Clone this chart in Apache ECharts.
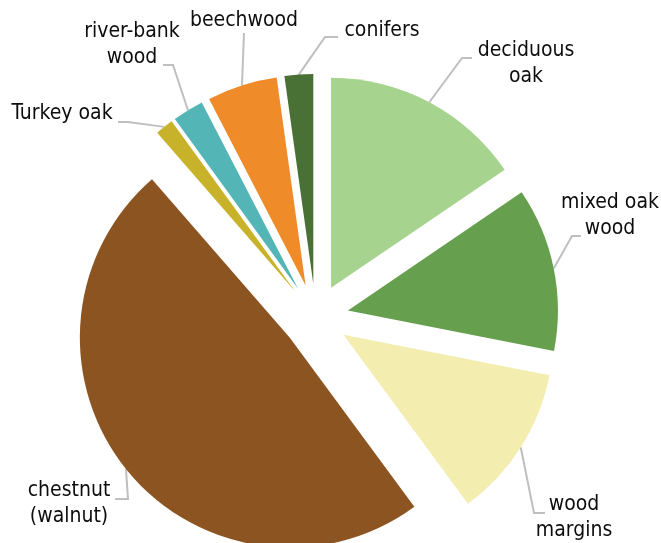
<!DOCTYPE html>
<html>
<head>
<meta charset="utf-8">
<script src="https://cdn.jsdelivr.net/npm/echarts@6/dist/echarts.min.js"></script>
<style>
html,body{margin:0;padding:0;background:#fff;}
#chart{width:661px;height:543px;}
</style>
</head>
<body>
<div id="chart"></div>
<script>
// ---- data ----
const categories = ['deciduous oak', 'mixed oak wood', 'wood margins', 'chestnut (walnut)', 'Turkey oak', 'river-bank wood', 'beechwood', 'conifers'];
const labelTexts = ['deciduous\noak', 'mixed oak\nwood', 'wood\nmargins', 'chestnut\n(walnut)', 'Turkey oak', 'river-bank\nwood', 'beechwood', 'conifers'];
const values = [15.5, 12.6, 11.8, 48.7, 1.4, 2.4, 5.4, 2.2];

// ---- style / layout ----
const colors = ['#A6D38D', '#66A04E', '#F3EDB0', '#8B5421', '#C8B22A', '#53B5B5', '#F08B2A', '#4A7135'];
const CX = 315.6, CY = 317, R = 210, EXPLODE = 33;
// label centre, line end (offset from label centre), elbow (offset from label centre)
const labelPlacement = [
  {x: 526, y: 64,  end: [-54, -6], elbow: [-64, -6]},
  {x: 610, y: 216, end: [-29, 20], elbow: [-38, 20]},
  {x: 574, y: 518, end: [-29, -5], elbow: [-40, -5]},
  {x: 69,  y: 504, end: [46, -5],  elbow: [59, -5]},
  {x: 62,  y: 114, end: [56, 8],   elbow: [66, 8]},
  {x: 132, y: 45,  end: [31, 20],  elbow: [41, 20]},
  {x: 244, y: 21,  end: [0, 12],   elbow: [0, 12]},
  {x: 382, y: 31,  end: [-44, 6],  elbow: [-57, 6]}
];

const total = values.reduce((a, b) => a + b, 0);
let cum = 0;
const mids = values.map(v => { const m = (cum + v / 2) / total * 2 * Math.PI; cum += v; return m; });

const chart = echarts.init(document.getElementById('chart'), null, {renderer: 'canvas'});
const series = values.map((_, i) => {
  const m = mids[i];
  const cx = CX + EXPLODE * Math.sin(m);
  const cy = CY - EXPLODE * Math.cos(m);
  const arcX = cx + R * Math.sin(m);
  const arcY = cy - R * Math.cos(m);
  const lp = labelPlacement[i];
  return {
    type: 'pie',
    center: [cx, cy],
    radius: R,
    startAngle: 90,
    clockwise: true,
    silent: true,
    animation: false,
    avoidLabelOverlap: false,
    data: values.map((v, j) => ({
      name: categories[j],
      value: v,
      itemStyle: {color: j === i ? colors[j] : 'rgba(0,0,0,0)', borderWidth: 0},
      label: {show: j === i},
      labelLine: {show: j === i}
    })),
    label: {
      position: 'outside',
      formatter: (p) => labelTexts[p.dataIndex],
      fontFamily: "'DejaVu Sans Condensed', 'DejaVu Sans', sans-serif",
      fontSize: 21,
      lineHeight: 26,
      color: '#0d0d0d',
      align: 'center'
    },
    labelLine: {
      show: true,
      lineStyle: {color: '#bfbfbf', width: 2}
    },
    labelLayout: (p) => {
      if (p.dataIndex !== i) return {};
      return {
        x: lp.x, y: lp.y, align: 'center', verticalAlign: 'middle',
        labelLinePoints: [
          [arcX, arcY],
          [lp.x + lp.elbow[0], lp.y + lp.elbow[1]],
          [lp.x + lp.end[0], lp.y + lp.end[1]]
        ]
      };
    }
  };
});

chart.setOption({
  backgroundColor: '#ffffff',
  animation: false,
  series: series
});
</script>
</body>
</html>
